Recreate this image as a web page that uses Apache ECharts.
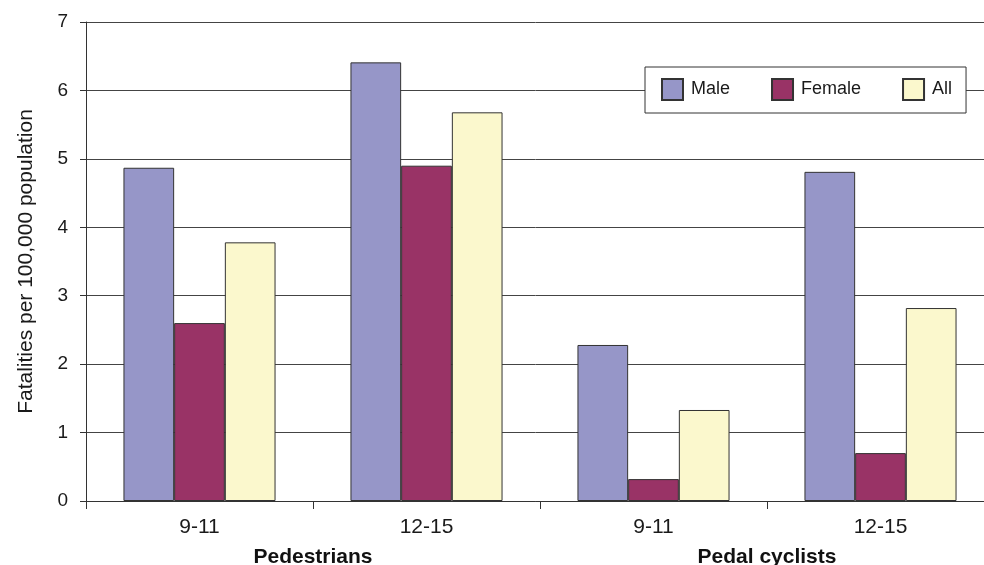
<!DOCTYPE html>
<html><head><meta charset="utf-8">
<script src="https://cdn.jsdelivr.net/npm/echarts@6/dist/echarts.min.js"></script>
<style>html,body{margin:0;padding:0;background:#fff;overflow:hidden}#c{width:984px;height:565px}</style>
</head><body><div id="c"></div>
<script>
const categories = ['9-11', '12-15', '9-11', '12-15'];
const groups = ['Pedestrians', 'Pedal cyclists'];
const male = [4.87, 6.41, 2.28, 4.81];
const female = [2.60, 4.90, 0.32, 0.70];
const all = [3.78, 5.68, 1.33, 2.82];
const yTicks = [0, 1, 2, 3, 4, 5, 6, 7];

const chart = echarts.init(document.getElementById('c'));
const font = 'Liberation Sans, Arial, sans-serif';
const mk = (name, data, color) => ({
  name, type: 'bar', data, barGap: '0%', barCategoryGap: '33%',
  itemStyle: { color, borderColor: '#333', borderWidth: 1 }
});
chart.setOption({
  animation: false,
  textStyle: { fontFamily: font },
  grid: { left: 86, top: 22, width: 908, height: 479, containLabel: false, outerBoundsMode: 'none' },
  legend: {
    left: 645, top: 67, padding: [11, 14, 12, 16],
    backgroundColor: '#fff', borderColor: '#333', borderWidth: 1,
    itemGap: 41, itemWidth: 21, itemHeight: 21, icon: 'rect',
    textStyle: { fontSize: 18, color: '#1a1a1a', fontFamily: font, padding: [0, 0, 0, 3] },
    data: ['Male', 'Female', 'All']
  },
  xAxis: [{
    type: 'category', data: categories, position: 'bottom',
    axisLine: { lineStyle: { color: '#333', width: 1 } },
    axisTick: { show: true, length: 8, lineStyle: { color: '#333' } },
    axisLabel: { fontSize: 21, color: '#1a1a1a', margin: 16, fontFamily: font }
  }, {
    type: 'category', data: groups, position: 'bottom', offset: 31,
    axisLine: { show: false }, axisTick: { show: false },
    axisLabel: { fontSize: 21, fontWeight: 'bold', color: '#111', margin: 15, fontFamily: font }
  }],
  yAxis: {
    type: 'value', min: yTicks[0], max: yTicks[yTicks.length - 1], interval: 1,
    name: 'Fatalities per 100,000 population', nameLocation: 'middle', nameGap: 49,
    nameTextStyle: { fontSize: 21, color: '#1a1a1a', fontFamily: font },
    axisLine: { show: true, lineStyle: { color: '#333' } },
    axisTick: { show: true, length: 6, lineStyle: { color: '#333' } },
    axisLabel: { fontSize: 19, color: '#1a1a1a', margin: 18, fontFamily: font },
    splitLine: { lineStyle: { color: '#444', width: 1 } }
  },
  series: [
    mk('Male', male, '#9696C8'),
    mk('Female', female, '#993366'),
    mk('All', all, '#FBF8CD')
  ]
});
</script></body></html>
